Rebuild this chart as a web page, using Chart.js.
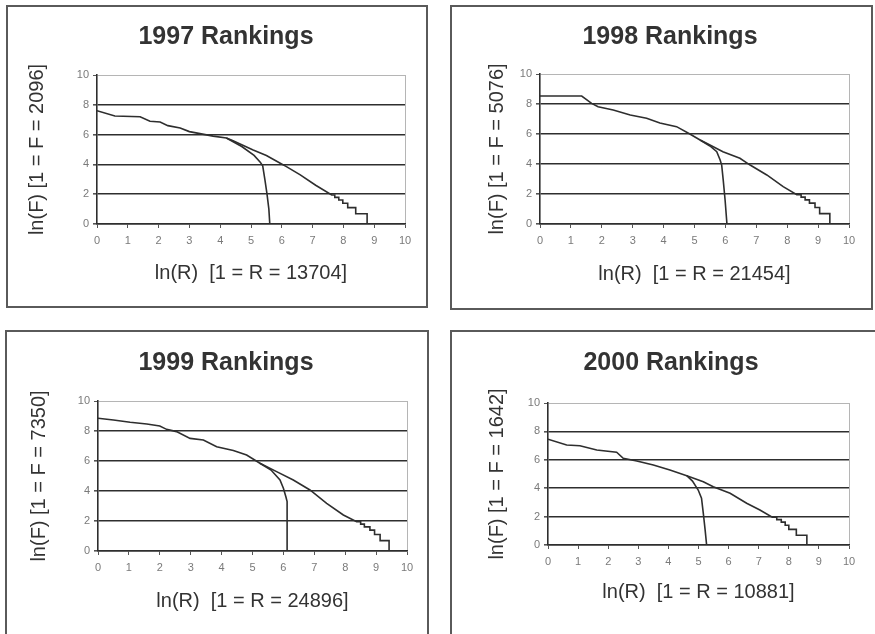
<!DOCTYPE html>
<html>
<head>
<meta charset="utf-8">
<script src="https://cdn.jsdelivr.net/npm/chart.js@4/dist/chart.umd.min.js"></script>
<style>
    body { margin: 0; background: #fff; width: 875px; height: 634px; overflow: hidden; position: relative; }
    .panel { position: absolute; }
    .frame { position: absolute; border: 2px solid #5a5a5a; box-sizing: border-box; pointer-events: none; }
</style>
</head>
<body>
<script>
// data
const years = ['1997', '1998', '1999', '2000'];
const maxF = [2096, 5076, 7350, 1642];
const maxR = [13704, 21454, 24896, 10881];
const xTickValues = [0, 1, 2, 3, 4, 5, 6, 7, 8, 9, 10];
const yTickValues = [0, 2, 4, 6, 8, 10];

// 1997
const longX1997 = [0, 0.58, 1.4, 1.72, 2.05, 2.3, 2.7, 3.0, 3.77, 4.2, 4.4, 5.07, 5.5, 5.95, 6.15, 6.6, 7.1, 7.62, 7.72, 7.72, 7.85, 7.85, 7.98, 7.98, 8.14, 8.14, 8.4, 8.4, 8.77, 8.77, 9.53];
const longY1997 = [7.6, 7.25, 7.2, 6.9, 6.85, 6.6, 6.44, 6.2, 5.9, 5.77, 5.6, 4.97, 4.6, 4.08, 3.85, 3.3, 2.6, 1.95, 1.95, 1.79, 1.79, 1.61, 1.61, 1.39, 1.39, 1.10, 1.10, 0.69, 0.69, 0, 0];
const shortX1997 = [4.2, 4.7, 5.1, 5.3, 5.38, 5.45, 5.52, 5.58, 5.61];
const shortY1997 = [5.77, 5.2, 4.6, 4.15, 3.9, 3.0, 2.0, 1.0, 0];

// 1998
const longX1998 = [0, 1.35, 1.67, 1.88, 2.37, 2.92, 3.45, 3.88, 4.42, 4.85, 5.18, 5.39, 5.92, 6.47, 6.8, 7.34, 7.87, 8.31, 8.45, 8.45, 8.58, 8.58, 8.72, 8.72, 8.9, 8.9, 9.05, 9.05, 9.38, 9.38, 9.97];
const longY1998 = [8.53, 8.53, 8.04, 7.82, 7.6, 7.27, 7.05, 6.73, 6.49, 6.0, 5.6, 5.38, 4.82, 4.38, 3.93, 3.27, 2.49, 1.95, 1.95, 1.79, 1.79, 1.61, 1.61, 1.39, 1.39, 1.10, 1.10, 0.69, 0.69, 0, 0];
const shortX1998 = [5.18, 5.5, 5.72, 5.83, 5.88, 5.93, 5.99, 6.05];
const shortY1998 = [5.6, 5.2, 4.82, 4.27, 3.93, 2.93, 1.6, 0];

// 1999
const longX1999 = [0, 0.5, 1.04, 1.58, 2.0, 2.22, 2.54, 2.98, 3.41, 3.84, 4.38, 4.81, 5.24, 5.78, 6.32, 6.86, 7.4, 7.94, 8.37, 8.5, 8.5, 8.62, 8.62, 8.8, 8.8, 8.95, 8.95, 9.13, 9.13, 9.42, 9.42, 10];
const longY1999 = [8.85, 8.73, 8.58, 8.47, 8.33, 8.11, 7.96, 7.51, 7.4, 6.95, 6.7, 6.4, 5.85, 5.29, 4.73, 4.07, 3.18, 2.4, 1.95, 1.95, 1.79, 1.79, 1.61, 1.61, 1.39, 1.39, 1.10, 1.10, 0.69, 0.69, 0, 0];
const shortX1999 = [5.24, 5.6, 5.89, 6.0, 6.08, 6.12, 6.12];
const shortY1999 = [5.85, 5.4, 4.73, 4.18, 3.62, 3.3, 0];

// 2000
const longX2000 = [0, 0.62, 1.06, 1.62, 2.28, 2.5, 2.95, 3.5, 4.05, 4.61, 5.16, 5.49, 6.05, 6.6, 7.04, 7.45, 7.6, 7.6, 7.75, 7.75, 7.88, 7.88, 8.0, 8.0, 8.25, 8.25, 8.6, 8.6, 9.29];
const longY2000 = [7.45, 7.04, 6.99, 6.69, 6.53, 6.1, 5.92, 5.63, 5.28, 4.88, 4.46, 4.1, 3.64, 2.94, 2.46, 1.95, 1.95, 1.79, 1.79, 1.61, 1.61, 1.39, 1.39, 1.10, 1.10, 0.69, 0.69, 0, 0];
const shortX2000 = [4.61, 4.8, 4.99, 5.1, 5.16, 5.22, 5.27];
const shortY2000 = [4.88, 4.5, 3.87, 3.3, 2.23, 1.06, 0];

const longXs = [longX1997, longX1998, longX1999, longX2000];
const longYs = [longY1997, longY1998, longY1999, longY2000];
const shortXs = [shortX1997, shortX1998, shortX1999, shortX2000];
const shortYs = [shortY1997, shortY1998, shortY1999, shortY2000];

// panel boxes and plot areas, page pixels
const boxes = [
    { l: 6,   t: 5,   w: 422, h: 303, cl: 97,  ct: 75,  cr: 405, cb: 224, titleX: 226, titleY: 37,  xTitleY: 273, yTitleX: 37 },
    { l: 450, t: 5,   w: 423, h: 305, cl: 540, ct: 74,  cr: 849, cb: 224, titleX: 670, titleY: 37,  xTitleY: 274, yTitleX: 497 },
    { l: 5,   t: 330, w: 424, h: 320, cl: 98,  ct: 401, cr: 407, cb: 551, titleX: 226, titleY: 363, xTitleY: 601, yTitleX: 39 },
    { l: 450, t: 330, w: 428, h: 320, cl: 548, ct: 403, cr: 849, cb: 545, titleX: 671, titleY: 363, xTitleY: 592, yTitleX: 497 }
];

const ink = '#2e2e2e';
const tickGray = '#7a7a7a';
const fontFamily = 'Arial, "Liberation Sans", sans-serif';

function toPoints(xs, ys) {
    return xs.map((x, i) => ({ x: x, y: ys[i] }));
}

function makePanel(i) {
    const b = boxes[i];

    const holder = document.createElement('div');
    holder.className = 'panel';
    holder.style.left = b.l + 'px';
    holder.style.top = b.t + 'px';
    const canvas = document.createElement('canvas');
    canvas.width = b.w;
    canvas.height = b.h;
    holder.appendChild(canvas);
    document.body.appendChild(holder);

    const frame = document.createElement('div');
    frame.className = 'frame';
    frame.style.left = b.l + 'px';
    frame.style.top = b.t + 'px';
    frame.style.width = b.w + 'px';
    frame.style.height = b.h + 'px';
    document.body.appendChild(frame);

    // work out paddings so the plot area lands where it is in the picture
    const padRight = b.l + b.w - b.cr;
    const padLeft = 2 * (b.titleX - b.l) - b.w + padRight;
    const yAxisWidth = (b.cl - b.l) - padLeft;
    const yTitlePad = (b.yTitleX - b.l) - padLeft - 12;
    const titleTop = (b.titleY - b.t) - 15;
    const titleBottom = (b.ct - b.t) - titleTop - 30;
    const xAxisHeight = (b.t + b.h) - b.cb;
    const xTitlePad = (b.t + b.h) - b.xTitleY - 12;

    new Chart(canvas.getContext('2d'), {
        type: 'scatter',
        data: {
            datasets: [
                {
                    data: toPoints(longXs[i], longYs[i]),
                    showLine: true,
                    borderColor: ink,
                    borderWidth: 1.6,
                    pointRadius: 0,
                    tension: 0
                },
                {
                    data: toPoints(shortXs[i], shortYs[i]),
                    showLine: true,
                    borderColor: ink,
                    borderWidth: 1.6,
                    pointRadius: 0,
                    tension: 0
                }
            ]
        },
        options: {
            responsive: false,
            animation: false,
            layout: { padding: { left: padLeft, right: padRight, top: 0, bottom: 0 } },
            plugins: {
                legend: { display: false },
                tooltip: { enabled: false },
                title: {
                    display: true,
                    text: years[i] + ' Rankings',
                    color: '#333',
                    font: { family: fontFamily, size: 25, weight: 'bold', lineHeight: 1.2 },
                    padding: { top: titleTop, bottom: titleBottom }
                }
            },
            scales: {
                x: {
                    type: 'linear',
                    min: 0,
                    max: 10,
                    afterBuildTicks: scale => { scale.ticks = xTickValues.map(v => ({ value: v })); },
                    afterFit: scale => { scale.height = xAxisHeight; },
                    ticks: { color: tickGray, font: { family: fontFamily, size: 11 }, padding: 6, maxRotation: 0 },
                    grid: {
                        color: ctx => ctx.tick && ctx.tick.value === 10 ? '#b5b5b5' : 'rgba(0,0,0,0)',
                        lineWidth: 1,
                        tickColor: '#555',
                        tickLength: 4
                    },
                    border: { color: ink, width: 1.6 },
                    title: {
                        display: true,
                        text: 'ln(R)  [1 = R = ' + maxR[i] + ']',
                        color: '#333',
                        font: { family: fontFamily, size: 20, lineHeight: 1.2 },
                        padding: { top: 0, bottom: xTitlePad }
                    }
                },
                y: {
                    min: 0,
                    max: 10,
                    afterBuildTicks: scale => { scale.ticks = yTickValues.map(v => ({ value: v })); },
                    afterFit: scale => { scale.width = yAxisWidth; },
                    ticks: { color: tickGray, font: { family: fontFamily, size: 11 }, padding: 4 },
                    grid: {
                        color: ctx => ctx.tick && ctx.tick.value === 10 ? '#b5b5b5' : ink,
                        lineWidth: ctx => ctx.tick && ctx.tick.value === 10 ? 1 : 1.6,
                        tickColor: '#555',
                        tickLength: 4
                    },
                    border: { color: ink, width: 1.6 },
                    title: {
                        display: true,
                        text: 'ln(F) [1 = F = ' + maxF[i] + ']',
                        color: '#333',
                        font: { family: fontFamily, size: 20, lineHeight: 1.2 },
                        padding: { top: yTitlePad, bottom: 0 }
                    }
                }
            }
        }
    });
}

for (let i = 0; i < years.length; i++) {
    makePanel(i);
}
</script>
</body>
</html>
